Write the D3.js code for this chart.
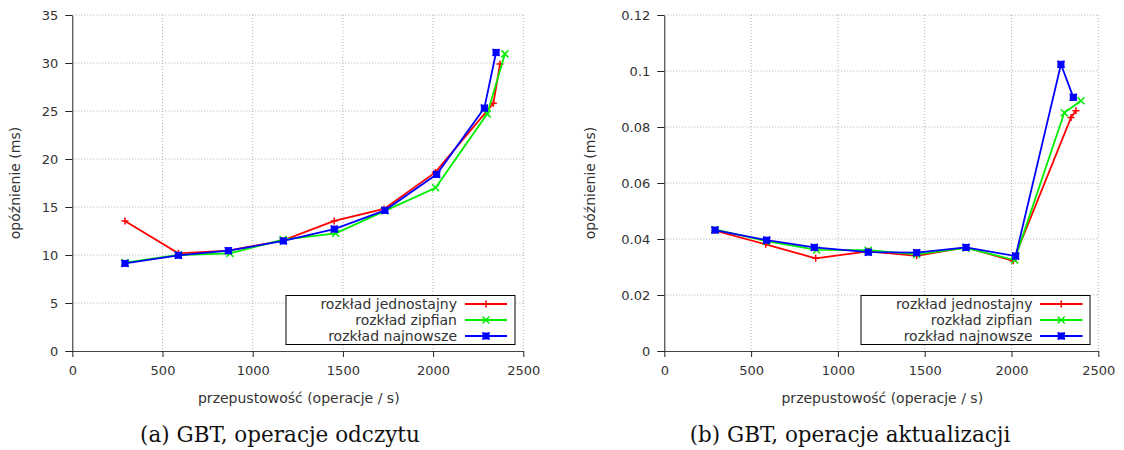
<!DOCTYPE html>
<html><head><meta charset="utf-8">
<script src="https://cdn.jsdelivr.net/npm/d3@7"></script>
<style>body{margin:0;background:#fff}svg{display:block}</style>
</head><body>
<svg id="c" width="1124" height="450"></svg>
<script>
const seriesNames = ["rozkład jednostajny", "rozkład zipfian", "rozkład najnowsze"];
const seriesColors = ["#ff0000", "#00ee00", "#0000ff"];
const seriesMarkers = ["plus", "cross", "square"];

// Chart (a): read latency
const readX = [
  [292, 588, 865, 1165, 1452, 1728, 2012, 2334, 2371],
  [292, 588, 874, 1168, 1460, 1733, 2014, 2300, 2398],
  [292, 588, 865, 1170, 1452, 1733, 2020, 2284, 2349]
];
const readY = [
  [13.55, 10.17, 10.45, 11.5, 13.55, 14.8, 18.6, 25.8, 29.9],
  [9.2, 10.0, 10.17, 11.6, 12.26, 14.6, 17.0, 24.7, 30.95],
  [9.13, 9.97, 10.45, 11.46, 12.7, 14.65, 18.4, 25.3, 31.1]
];
// Chart (b): update latency
const updX = [
  [292, 584, 872, 1175, 1454, 1738, 2010, 2343, 2371],
  [292, 588, 878, 1175, 1454, 1738, 2018, 2304, 2400],
  [292, 590, 864, 1175, 1454, 1738, 2024, 2285, 2356]
];
const updY = [
  [0.0430, 0.0381, 0.0331, 0.0356, 0.0340, 0.0370, 0.0322, 0.0834, 0.0858],
  [0.0434, 0.0392, 0.0361, 0.0360, 0.0345, 0.0368, 0.0325, 0.0851, 0.0894],
  [0.0432, 0.0396, 0.0370, 0.0353, 0.0351, 0.0370, 0.0339, 0.1024, 0.0906]
];
const xTicks = [0, 500, 1000, 1500, 2000, 2500];
const readYTicks = [0, 5, 10, 15, 20, 25, 30, 35];
const updYTicks = [0, 0.02, 0.04, 0.06, 0.08, 0.1, 0.12];
const xLabel = "przepustowość (operacje / s)";
const yLabel = "opóźnienie (ms)";
const captions = ["(a) GBT, operacje odczytu", "(b) GBT, operacje aktualizacji"];

const svg = d3.select("#c");
const FONT = "'DejaVu Sans', sans-serif";
const SERIF = "'DejaVu Serif', serif";

function drawChart(cfg) {
  const {left, right, top, bottom, xs, ys, yTicks, yMax, yFmt, caption, capX, ylabX, legend} = cfg;
  const x = d3.scaleLinear().domain([0, 2500]).range([left, right]);
  const y = d3.scaleLinear().domain([0, yMax]).range([bottom, top]);
  const g = svg.append("g");

  // grid
  g.append("g").selectAll("line").data(xTicks.filter(d => d > 0)).join("line")
    .attr("x1", d => x(d)).attr("x2", d => x(d)).attr("y1", top).attr("y2", bottom)
    .attr("stroke", "#b0b0b0").attr("stroke-width", 1).attr("stroke-dasharray", "1,2");
  g.append("g").selectAll("line").data(yTicks.filter(d => d > 0)).join("line")
    .attr("x1", left).attr("x2", right).attr("y1", d => y(d)).attr("y2", d => y(d))
    .attr("stroke", "#b0b0b0").attr("stroke-width", 1).attr("stroke-dasharray", "1,2");

  // axes
  const xa = g.append("g").attr("transform", `translate(0,${bottom})`)
    .call(d3.axisBottom(x).tickValues(xTicks).tickSize(6).tickPadding(9).tickSizeOuter(0).tickFormat(d3.format("d")));
  const ya = g.append("g").attr("transform", `translate(${left},0)`)
    .call(d3.axisLeft(y).tickValues(yTicks).tickSize(7).tickPadding(7).tickSizeOuter(0).tickFormat(yFmt));
  [xa, ya].forEach(a => {
    a.selectAll("text").attr("font-family", FONT).attr("font-size", 13).attr("fill", "#333");
    a.selectAll("line").attr("stroke", "#222");
    a.select(".domain").attr("stroke", "#222");
  });
  xa.select(".domain").attr("stroke", "#444");

  // labels
  g.append("text").attr("x", (left + right) / 2 + 1).attr("y", 403).attr("text-anchor", "middle")
    .attr("font-family", FONT).attr("font-size", 14).attr("fill", "#333").text(xLabel);
  g.append("text").attr("transform", `translate(${ylabX},${(top + bottom) / 2}) rotate(-90)`)
    .attr("text-anchor", "middle").attr("dy", "0.35em").attr("font-family", FONT).attr("font-size", 14).attr("fill", "#333").text(yLabel);
  g.append("text").attr("x", capX).attr("y", 442).attr("text-anchor", "middle")
    .attr("font-family", SERIF).attr("font-size", 21.5).attr("fill", "#111").text(caption);

  // series
  const line = d3.line().x(d => x(d[0])).y(d => y(d[1]));
  seriesNames.forEach((name, i) => {
    const pts = xs[i].map((v, j) => [v, ys[i][j]]);
    g.append("path").datum(pts).attr("d", line).attr("fill", "none")
      .attr("stroke", seriesColors[i]).attr("stroke-width", 1.8);
    pts.forEach(p => drawMarker(g, x(p[0]), y(p[1]), seriesMarkers[i], seriesColors[i]));
  });

  // legend
  const L = legend;
  g.append("rect").attr("x", L.x).attr("y", L.y).attr("width", L.w).attr("height", L.h)
    .attr("fill", "#fff").attr("stroke", "#000").attr("stroke-width", 1);
  seriesNames.forEach((name, i) => {
    const cy = L.y + 8.5 + i * 16;
    g.append("text").attr("x", L.textRight).attr("y", cy).attr("dy", "0.35em").attr("text-anchor", "end")
      .attr("font-family", FONT).attr("font-size", 14).attr("fill", "#333").text(name);
    g.append("line").attr("x1", L.lx1).attr("x2", L.lx2).attr("y1", cy).attr("y2", cy)
      .attr("stroke", seriesColors[i]).attr("stroke-width", 1.8);
    drawMarker(g, (L.lx1 + L.lx2) / 2, cy, seriesMarkers[i], seriesColors[i]);
  });
}

function drawMarker(g, cx, cy, type, color) {
  const s = 3.5;
  if (type === "plus") {
    g.append("path").attr("d", `M${cx - s},${cy}H${cx + s}M${cx},${cy - s}V${cy + s}`)
      .attr("stroke", color).attr("stroke-width", 1.5).attr("fill", "none");
  } else if (type === "cross") {
    g.append("path").attr("d", `M${cx - s},${cy - s}L${cx + s},${cy + s}M${cx - s},${cy + s}L${cx + s},${cy - s}`)
      .attr("stroke", color).attr("stroke-width", 1.5).attr("fill", "none");
  } else {
    g.append("rect").attr("x", cx - 3).attr("y", cy - 3).attr("width", 6).attr("height", 6)
      .attr("fill", color).attr("stroke", color).attr("stroke-width", 1);
    g.append("path").attr("d", `M${cx - s},${cy - s}L${cx + s},${cy + s}M${cx - s},${cy + s}L${cx + s},${cy - s}`)
      .attr("stroke", color).attr("stroke-width", 1.5).attr("fill", "none");
  }
}

drawChart({
  left: 72.3, right: 523.3, top: 15, bottom: 351,
  xs: readX, ys: readY, yTicks: readYTicks, yMax: 35, yFmt: d3.format("d"),
  caption: captions[0], capX: 280, ylabX: 15,
  legend: {x: 286, y: 295.5, w: 229, h: 49, textRight: 457, lx1: 465, lx2: 507}
});
drawChart({
  left: 664.3, right: 1098.3, top: 15, bottom: 351,
  xs: updX, ys: updY, yTicks: updYTicks, yMax: 0.12, yFmt: d => d === 0 ? "0" : String(+d.toFixed(2)),
  caption: captions[1], capX: 850, ylabX: 590,
  legend: {x: 861, y: 295.5, w: 229, h: 49, textRight: 1032.5, lx1: 1040, lx2: 1082.5}
});
</script>
</body></html>
